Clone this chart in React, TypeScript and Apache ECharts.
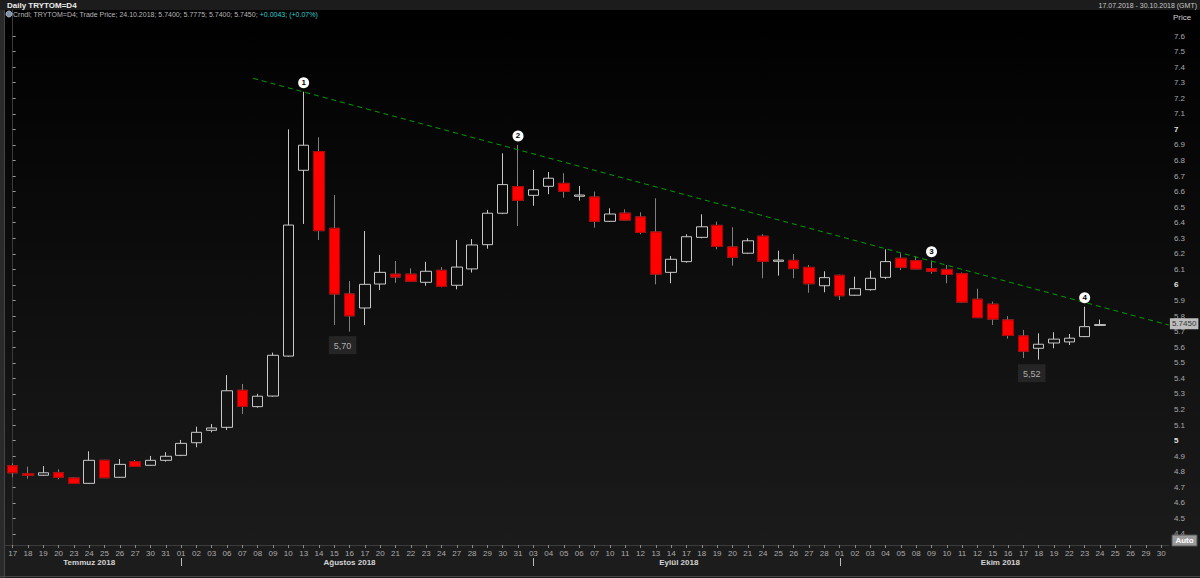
import React, { useEffect, useRef } from "react";
import * as echarts from "echarts";

const dates = [
  "17", "18", "19", "20", "23", "24", "25", "26", "27", "30", "31",
  "01", "02", "03", "06", "07", "08", "09", "10", "13", "14", "15", "16", "17", "20", "21", "22", "23", "24", "27", "28", "29", "30", "31",
  "03", "04", "05", "06", "07", "10", "11", "12", "13", "14", "17", "18", "19", "20", "21", "24", "25", "26", "27", "28",
  "01", "02", "03", "04", "05", "08", "09", "10", "11", "12", "15", "16", "17", "18", "19", "22", "23", "24", "25", "26", "29", "30",
];

const monthNames = ["Temmuz 2018", "Ağustos 2018", "Eylül 2018", "Ekim 2018"];
const monthStart = [0, 11, 34, 54];
const monthEnd = [10, 33, 53, 75];

const opens = [
  4.838, 4.787, 4.777, 4.793, 4.759, 4.725, 4.873, 4.764, 4.864, 4.841, 4.873,
  4.905, 4.986, 5.066, 5.085, 5.323, 5.218, 5.286, 5.543, 6.737, 6.857, 6.364, 5.942, 5.852, 6.006, 6.069, 6.069, 6.017, 6.094, 5.998, 6.103, 6.259, 6.461,
  6.632, 6.576, 6.634, 6.653, 6.57, 6.565, 6.409, 6.461, 6.437, 6.34, 6.081, 6.15, 6.306, 6.383, 6.244, 6.204, 6.313, 6.152, 6.158, 6.113, 5.995,
  6.062, 5.934, 5.97, 6.049, 6.171, 6.156, 6.105, 6.1, 6.072, 5.908, 5.876, 5.775, 5.672, 5.593, 5.627, 5.634, 5.668, 5.74,
];
const highs = [
  4.854, 4.832, 4.836, 4.815, 4.764, 4.931, 4.876, 4.881, 4.875, 4.901, 4.925,
  5.004, 5.089, 5.106, 5.421, 5.364, 5.3, 5.565, 7.0, 7.242, 6.949, 6.578, 6.025, 6.347, 6.193, 6.154, 6.107, 6.149, 6.115, 6.289, 6.295, 6.482, 6.846,
  6.9, 6.739, 6.726, 6.718, 6.636, 6.6, 6.493, 6.486, 6.467, 6.557, 6.186, 6.326, 6.454, 6.407, 6.371, 6.3, 6.326, 6.22, 6.199, 6.128, 6.088,
  6.066, 6.053, 6.092, 6.229, 6.203, 6.181, 6.156, 6.128, 6.08, 5.976, 5.893, 5.8, 5.711, 5.689, 5.696, 5.685, 5.86, 5.7775,
];
const lows = [
  4.764, 4.755, 4.774, 4.751, 4.722, 4.722, 4.759, 4.76, 4.832, 4.838, 4.864,
  4.9, 4.957, 5.053, 5.068, 5.171, 5.211, 5.282, 5.539, 6.392, 6.289, 5.743, 5.7, 5.743, 5.968, 6.014, 6.02, 5.995, 5.985, 5.972, 6.08, 6.233, 6.455,
  6.379, 6.509, 6.583, 6.561, 6.542, 6.368, 6.405, 6.415, 6.326, 6.004, 6.011, 6.143, 6.3, 6.229, 6.124, 6.2, 6.043, 6.06, 6.043, 5.95, 5.953,
  5.903, 5.93, 5.963, 6.038, 6.096, 6.1, 6.072, 6.011, 5.885, 5.788, 5.743, 5.655, 5.53, 5.52, 5.593, 5.614, 5.665, 5.74,
];
const closes = [
  4.793, 4.777, 4.793, 4.764, 4.725, 4.873, 4.761, 4.847, 4.834, 4.873, 4.899,
  4.982, 5.053, 5.081, 5.32, 5.22, 5.285, 5.548, 6.385, 6.898, 6.349, 5.942, 5.802, 6.004, 6.081, 6.051, 6.024, 6.088, 5.991, 6.115, 6.257, 6.461, 6.645,
  6.544, 6.612, 6.686, 6.602, 6.578, 6.409, 6.456, 6.417, 6.338, 6.07, 6.165, 6.31, 6.374, 6.248, 6.178, 6.284, 6.152, 6.16, 6.105, 6.008, 6.047,
  5.931, 5.976, 6.043, 6.15, 6.114, 6.103, 6.088, 6.068, 5.89, 5.79, 5.781, 5.676, 5.574, 5.619, 5.652, 5.658, 5.732, 5.745,
];

const priceTicks = [
  7.6, 7.5, 7.4, 7.3, 7.2, 7.1, 7.0, 6.9, 6.8, 6.7, 6.6, 6.5, 6.4, 6.3, 6.2, 6.1, 6.0,
  5.9, 5.8, 5.7, 5.6, 5.5, 5.4, 5.3, 5.2, 5.1, 5.0, 4.9, 4.8, 4.7, 4.6, 4.5, 4.4,
];

const trendX = [15.7, 75.5];
const trendY = [7.328, 5.742];

const peakIdx = [19, 33, 60, 70];
const peakLabels = ["1", "2", "3", "4"];
const lowIdx = [22, 67];
const lastIdx = 71;
const lastDate = "24.10.2018";
const change = "+0.0043";
const changePct = "(+0.07%)";

const FONT = "Liberation Sans, Arial, sans-serif";

export default function App() {
  const ref = useRef<HTMLDivElement>(null);

  useEffect(() => {
    document.body.style.margin = "0";
    const chart = echarts.init(ref.current!, null, { renderer: "svg" });

    const candleData = opens.map((o, i) => [o, closes[i], lows[i], highs[i]]);
    const redBodies = opens.map((o, i) =>
      closes[i] < o ? [o, closes[i], closes[i], o] : ["-", "-", "-", "-"]
    );

    const option: any = {
      animation: false,
      backgroundColor: "#000",
      textStyle: { fontFamily: FONT },
      grid: { left: 5, right: 31.1, top: 10, bottom: 33, containLabel: false },
      xAxis: [
        {
          type: "category",
          data: dates,
          boundaryGap: true,
          axisLine: { show: true, lineStyle: { color: "#3c3c3c" } },
          axisTick: { show: true, alignWithLabel: true, length: 3, lineStyle: { color: "#8a8a8a" } },
          axisLabel: { interval: 0, color: "#ababab", fontSize: 8, margin: 4, fontFamily: FONT },
          splitLine: { show: false },
        },
        {
          type: "value",
          show: false,
          min: -0.5,
          max: 75.5,
          gridIndex: 0,
        },
      ],
      yAxis: {
        type: "value",
        position: "right",
        min: 4.3288,
        max: 7.7671,
        scale: true,
        axisLine: { show: true, lineStyle: { color: "#3a3a3a" } },
        axisTick: { show: true, customValues: priceTicks, length: 3, lineStyle: { color: "#9a9a9a" } },
        axisLabel: {
          customValues: priceTicks,
          color: "#a8a8a8",
          fontSize: 8,
          margin: 5,
          fontFamily: FONT,
          formatter: (v: number) => {
            const r = Math.round(v * 10) / 10;
            if (Math.abs(r - Math.round(r)) < 1e-9) return `{b|${Math.round(r)}}`;
            return r.toFixed(1);
          },
          rich: { b: { fontWeight: "bold", color: "#e0e0e0", fontSize: 8, fontFamily: FONT } },
        },
        splitLine: { show: false },
      },
      series: [
        {
          type: "candlestick",
          data: candleData,
          barWidth: 11,
          itemStyle: {
            color: "rgba(0,0,0,0)",
            color0: "#ff0000",
            borderColor: "#c8c8c8",
            borderColor0: "#808080",
            borderWidth: 1,
          },
          markLine: {
            silent: true,
            symbol: ["none", "none"],
            lineStyle: { color: "rgba(0,0,0,0)", width: 0 },
            data: [{ yAxis: closes[lastIdx] }],
            label: {
              show: true,
              position: "end",
              distance: 1,
              formatter: closes[lastIdx].toFixed(4),
              backgroundColor: "#bdbdbd",
              color: "#333",
              fontSize: 8,
              padding: [2, 2, 1, 2],
              fontFamily: FONT,
            },
          },
        },
        {
          type: "candlestick",
          data: redBodies,
          barWidth: 11,
          itemStyle: {
            color: "rgba(0,0,0,0)",
            color0: "#ff0000",
            borderColor: "rgba(0,0,0,0)",
            borderColor0: "#b00000",
            borderWidth: 1,
          },
        },
        {
          type: "line",
          xAxisIndex: 1,
          data: trendX.map((x, i) => [x, trendY[i]]),
          symbol: "none",
          lineStyle: { color: "#00a000", width: 1, type: [5, 4] },
          z: 4,
        },
        {
          type: "scatter",
          data: peakIdx.map((i) => [i, highs[i]]),
          symbol: "circle",
          symbolSize: 11,
          symbolOffset: [0, -9],
          itemStyle: { color: "#ffffff", opacity: 1 },
          label: {
            show: true,
            position: "inside",
            formatter: (p: any) => peakLabels[p.dataIndex],
            color: "#000",
            fontSize: 8,
            fontWeight: "bold",
            fontFamily: FONT,
          },
          z: 6,
        },
        {
          type: "scatter",
          data: lowIdx.map((i) => [i, lows[i]]),
          symbol: "circle",
          symbolSize: 1,
          itemStyle: { color: "rgba(0,0,0,0)" },
          label: {
            show: true,
            position: "bottom",
            distance: 4,
            offset: [-7, 0],
            formatter: (p: any) => lows[lowIdx[p.dataIndex]].toFixed(2).replace(".", ","),
            backgroundColor: "#2b2b2b",
            padding: [5, 5, 4, 5],
            color: "#d4d4d4",
            fontSize: 9,
            fontFamily: FONT,
          },
          z: 6,
        },
      ],
    };

    chart.setOption(option);

    const xPix = (v: number) => chart.convertToPixel({ xAxisIndex: 1 }, v) as unknown as number;

    const headerText =
      `{a|Crndl; TRYTOM=D4; Trade Price; ${lastDate}; ${opens[lastIdx].toFixed(4)}; ${highs[lastIdx].toFixed(4)}; ` +
      `${lows[lastIdx].toFixed(4)}; ${closes[lastIdx].toFixed(4)};} {b|${change}; ${changePct}}`;

    const elements: any[] = [
      {
        type: "rect",
        z: -10,
        shape: { x: 0, y: 10, width: 1200, height: 535 },
        style: {
          fill: new echarts.graphic.LinearGradient(0, 0, 0, 1, [
            { offset: 0, color: "#000000" },
            { offset: 1, color: "#1b1b1b" },
          ]),
        },
      },
      { type: "rect", z: -9, shape: { x: 0, y: 0, width: 1200, height: 10 }, style: { fill: "#1c1c1c" } },
      { type: "rect", z: -9, shape: { x: 0, y: 545, width: 1200, height: 33 }, style: { fill: "#1c1c1c" } },
      { type: "rect", z: -8, shape: { x: 0, y: 10, width: 4, height: 568 }, style: { fill: "#2a2a2a" } },
      { type: "line", z: -8, shape: { x1: 4.5, y1: 10, x2: 4.5, y2: 578 }, style: { stroke: "#444", lineWidth: 1 } },
      { type: "line", z: -8, shape: { x1: 0, y1: 576.5, x2: 1200, y2: 576.5 }, style: { stroke: "#444", lineWidth: 1 } },
      {
        type: "text",
        z: 100,
        style: { x: 7, y: 5, text: "Daily TRYTOM=D4", fill: "#ececec", font: `bold 8px ${FONT}`, verticalAlign: "middle" },
      },
      {
        type: "text",
        z: 100,
        style: {
          x: 1197, y: 5, text: "17.07.2018 - 30.10.2018 (GMT)", fill: "#c8c8c8",
          font: `7px ${FONT}`, align: "right", verticalAlign: "middle",
        },
      },
      {
        type: "circle",
        z: 100,
        shape: { cx: 9, cy: 14, r: 3 },
        style: { fill: "#7f8fa8", stroke: "#d0d0d0", lineWidth: 0.8 },
      },
      {
        type: "text",
        z: 100,
        style: {
          x: 13, y: 14, text: headerText, font: `7px ${FONT}`, verticalAlign: "middle",
          rich: {
            a: { fill: "#b8b8b8", color: "#b8b8b8", font: `7px ${FONT}` },
            b: { fill: "#2fd0d0", color: "#2fd0d0", font: `7px ${FONT}` },
          },
        },
      },
      {
        type: "text",
        z: 100,
        style: { x: 1173, y: 17, text: "Price", fill: "#d0d0d0", font: `8px ${FONT}`, verticalAlign: "middle" },
      },
      {
        type: "rect",
        z: 100,
        shape: { x: 1172, y: 535, width: 25, height: 11 },
        style: { fill: "#9a9a9a", stroke: "#555", lineWidth: 1 },
      },
      {
        type: "text",
        z: 101,
        style: {
          x: 1184.5, y: 540.5, text: "Auto", fill: "#ffffff", font: `bold 8px ${FONT}`,
          align: "center", verticalAlign: "middle",
        },
      },
    ];

    monthNames.forEach((name, k) => {
      const cx = xPix((monthStart[k] + monthEnd[k]) / 2);
      elements.push({
        type: "text",
        z: 100,
        style: {
          x: cx, y: 562, text: name, fill: "#d4d4d4", font: `bold 8px ${FONT}`,
          align: "center", verticalAlign: "middle",
        },
      });
      if (k > 0) {
        const sx = Math.round(xPix(monthStart[k])) + 0.5;
        elements.push({
          type: "line",
          z: 100,
          shape: { x1: sx, y1: 558, x2: sx, y2: 566 },
          style: { stroke: "#bbbbbb", lineWidth: 1 },
        });
      }
    });

    chart.setOption({ graphic: { elements } });

    return () => chart.dispose();
  }, []);

  return <div ref={ref} style={{ width: 1200, height: 578 }} />;
}
